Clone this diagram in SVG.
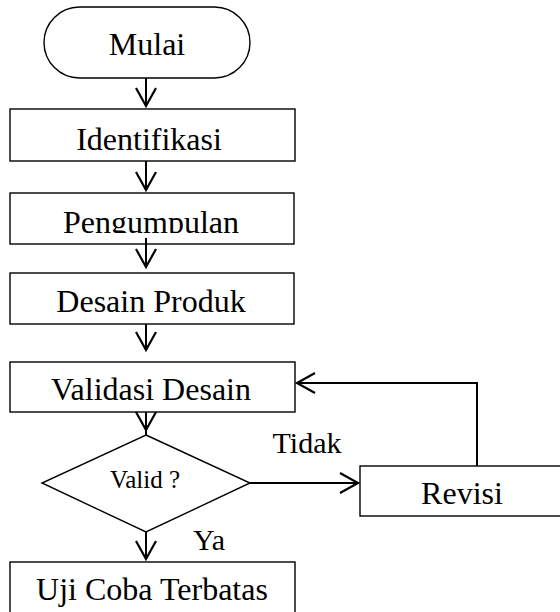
<svg xmlns="http://www.w3.org/2000/svg" width="560" height="612" viewBox="0 0 560 612">
<style>
.box{fill:#fff;stroke:#000;stroke-width:1.4}
.t{font-family:"Liberation Serif","Times New Roman",serif;font-size:32px;fill:#000;text-anchor:middle}
.s{font-size:25px}
.l{font-size:30px}
.c{fill:none;stroke:#000;stroke-width:2}
</style>
<defs>
<marker id="ah" markerUnits="userSpaceOnUse" markerWidth="24" markerHeight="24" viewBox="-20 -12 24 24" refX="0" refY="0" orient="auto">
<path d="M-18,-10 L0,0 L-18,10" fill="none" stroke="#000" stroke-width="2.2"/>
</marker>
<clipPath id="clipP"><rect x="10" y="193" width="284" height="40"/></clipPath>
</defs>
<rect width="560" height="612" fill="#fff"/>
<g id="n-mulai"><rect class="box" x="44" y="7" width="206" height="71" rx="35.5"/><text class="t" x="147" y="55">Mulai</text></g>
<g id="n-identifikasi"><rect class="box" x="10" y="109" width="285" height="52"/><text class="t" x="149" y="150">Identifikasi</text></g>
<g id="n-pengumpulan"><rect class="box" x="10" y="193" width="284" height="51"/><text class="t" x="151" y="233" clip-path="url(#clipP)">Pengumpulan</text></g>
<g id="n-desain"><rect class="box" x="10" y="273" width="284" height="51"/><text class="t" x="151" y="312">Desain Produk</text></g>
<g id="n-validasi"><rect class="box" x="10" y="362" width="285" height="50"/><text class="t" x="151" y="400">Validasi Desain</text></g>
<g id="n-valid"><polygon class="box" points="146,435 250,483 146,532 42,483"/><text class="t s" x="145" y="488">Valid ?</text></g>
<g id="n-revisi"><rect class="box" x="360" y="466" width="210" height="50"/><text class="t" x="462" y="504">Revisi</text></g>
<g id="n-uji"><rect class="box" x="10" y="562" width="285" height="60"/><text class="t" x="152" y="600">Uji Coba Terbatas</text></g>
<g id="connectors">
<line class="c" x1="146" y1="78" x2="146" y2="106" marker-end="url(#ah)"/>
<line class="c" x1="146" y1="161" x2="146" y2="190" marker-end="url(#ah)"/>
<line class="c" x1="146" y1="238" x2="146" y2="267" marker-end="url(#ah)"/>
<line class="c" x1="146" y1="324" x2="146" y2="350" marker-end="url(#ah)"/>
<line class="c" x1="146" y1="412" x2="146" y2="430" marker-end="url(#ah)"/>
<line class="c" x1="146" y1="430" x2="146" y2="435"/>
<line class="c" x1="146" y1="532" x2="146" y2="559" marker-end="url(#ah)"/>
<line class="c" x1="250" y1="483" x2="358" y2="483" marker-end="url(#ah)"/>
<polyline class="c" points="477,466 477,383 297,383" marker-end="url(#ah)"/>
<text class="t l" x="307" y="453">Tidak</text>
<text class="t l" x="209" y="550">Ya</text>
</g>
</svg>
